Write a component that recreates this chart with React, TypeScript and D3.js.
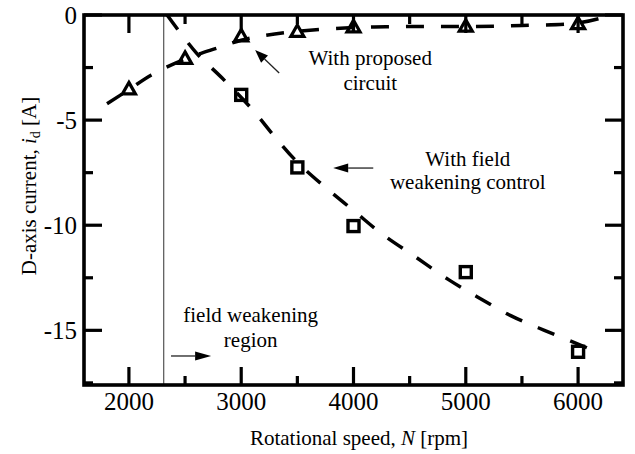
import React from "react";
import * as d3 from "d3";

// ---- data ----
const triN = [2000, 2500, 3000, 3500, 4000, 5000, 6000];
const triI = [-3.5, -2.05, -0.98, -0.77, -0.55, -0.52, -0.4];

const sqN = [3000, 3500, 4000, 5000, 6000];
const sqI = [-3.8, -7.25, -10.04, -12.23, -16.02];

// fitted (dashed) curves
const triFitN = [1805, 2000, 2200, 2500, 2800, 3000, 3200, 3500, 4000, 4500, 5000, 5500, 6000, 6200];
const triFitI = [-4.22, -3.55, -2.85, -2.1, -1.55, -1.2, -0.98, -0.78, -0.6, -0.55, -0.55, -0.5, -0.38, -0.15];

const sqFitN = [2340, 2600, 2830, 3100, 3300, 3500, 3750, 4000, 4250, 4550, 4850, 5100, 5400, 5700, 6000, 6130];
const sqFitI = [0, -1.8, -3.0, -4.5, -5.8, -7.0, -8.2, -9.3, -10.4, -11.5, -12.6, -13.4, -14.3, -15.0, -15.65, -15.95];

const xMajor = [2000, 3000, 4000, 5000, 6000];
const xMinor = [2500, 3500, 4500, 5500];
const yMajor = [0, -5, -10, -15];
const yMinor = [-2.5, -7.5, -12.5, -17.5];
const xTickLabels = ["2000", "3000", "4000", "5000", "6000"];
const yTickLabels = ["0", "-5", "-10", "-15"];

const fwBoundary = 2310;

const W = 635, H = 454;
const L = 84, R = 623, T = 15, B = 385;
const FONT = "'Liberation Serif', 'Times New Roman', serif";

function Arrow({ x1, y1, x2, y2, len = 15, half = 4.5 }: any) {
  const a = Math.atan2(y2 - y1, x2 - x1);
  const bx = x2 - len * Math.cos(a), by = y2 - len * Math.sin(a);
  const px = -Math.sin(a) * half, py = Math.cos(a) * half;
  return (
    <g>
      <line x1={x1} y1={y1} x2={bx} y2={by} stroke="#222" strokeWidth={1.3} />
      <polygon points={`${x2},${y2} ${bx + px},${by + py} ${bx - px},${by - py}`} fill="#000" />
    </g>
  );
}

export default function App() {
  const x = d3.scaleLinear().domain([1600, 6400]).range([L, R]);
  const y = d3.scaleLinear().domain([-17.6, 0]).range([B, T]);

  const line = d3.line<[number, number]>().x(d => x(d[0])).y(d => y(d[1])).curve(d3.curveCatmullRom.alpha(0.5));
  const triFit = line(triFitN.map((n, i) => [n, triFitI[i]]))!;
  const sqFit = line(sqFitN.map((n, i) => [n, sqFitI[i]]))!;

  const tri = (cx: number, cy: number) => {
    const s = 6.2;
    return `${cx},${cy - s} ${cx + s * 1.05},${cy + s * 0.85} ${cx - s * 1.05},${cy + s * 0.85}`;
  };

  return (
    <svg width={W} height={H} style={{ position: "absolute", left: 0, top: 0, background: "#fff" }} fontFamily={FONT}>
      <defs>
        <clipPath id="plot">
          <rect x={L} y={T} width={R - L} height={B - T} />
        </clipPath>
      </defs>
      <rect x={0} y={0} width={W} height={H} fill="#fff" />

      {/* boundary line */}
      <line x1={x(fwBoundary)} x2={x(fwBoundary)} y1={T} y2={B} stroke="#444" strokeWidth={1.1} />

      {/* ticks */}
      {xMajor.map(v => (
        <g key={"xM" + v}>
          <line x1={x(v)} x2={x(v)} y1={B} y2={B - 18} stroke="#000" strokeWidth={3.2} />
          <line x1={x(v)} x2={x(v)} y1={T} y2={T + 18} stroke="#000" strokeWidth={3.2} />
        </g>
      ))}
      {xMinor.map(v => (
        <g key={"xm" + v}>
          <line x1={x(v)} x2={x(v)} y1={B} y2={B - 9} stroke="#000" strokeWidth={3.2} />
          <line x1={x(v)} x2={x(v)} y1={T} y2={T + 9} stroke="#000" strokeWidth={3.2} />
        </g>
      ))}
      {yMajor.map(v => (
        <g key={"yM" + v}>
          <line x1={L} x2={L + 18} y1={y(v)} y2={y(v)} stroke="#000" strokeWidth={3.2} />
          <line x1={R} x2={R - 18} y1={y(v)} y2={y(v)} stroke="#000" strokeWidth={3.2} />
        </g>
      ))}
      {yMinor.map(v => (
        <g key={"ym" + v}>
          <line x1={L} x2={L + 9} y1={y(v)} y2={y(v)} stroke="#000" strokeWidth={3.2} />
          <line x1={R} x2={R - 9} y1={y(v)} y2={y(v)} stroke="#000" strokeWidth={3.2} />
        </g>
      ))}

      {/* curves */}
      <g clipPath="url(#plot)">
        <path d={triFit} fill="none" stroke="#000" strokeWidth={3.5} strokeDasharray="18,17" />
        <path d={sqFit} fill="none" stroke="#000" strokeWidth={3.5} strokeDasharray="18,17" />
      </g>

      {/* markers */}
      {triN.map((n, i) => (
        <polygon key={"t" + n} points={tri(x(n), y(triI[i]))} fill="none" stroke="#000" strokeWidth={3.2} strokeLinejoin="miter" />
      ))}
      {sqN.map((n, i) => (
        <rect key={"s" + n} x={x(n) - 5.5} y={y(sqI[i]) - 5.5} width={11} height={11} fill="none" stroke="#000" strokeWidth={3.4} />
      ))}

      {/* frame */}
      <rect x={L} y={T} width={R - L} height={B - T} fill="none" stroke="#000" strokeWidth={3.6} />

      {/* tick labels */}
      {xMajor.map((v, i) => (
        <text key={"xl" + v} x={x(v)} y={B + 25} textAnchor="middle" fontSize={25}>{xTickLabels[i]}</text>
      ))}
      {yMajor.map((v, i) => (
        <text key={"yl" + v} x={L - 7} y={y(v) + 8.5} textAnchor="end" fontSize={25}>{yTickLabels[i]}</text>
      ))}

      {/* axis titles */}
      <text x={359} y={445} textAnchor="middle" fontSize={21}>
        Rotational speed, <tspan fontStyle="italic">N</tspan> [rpm]
      </text>
      <text transform="translate(36,186) rotate(-90)" textAnchor="middle" fontSize={21}>
        D-axis current, <tspan fontStyle="italic">i</tspan><tspan fontSize={14} dy={4}>d</tspan><tspan dy={-4}> [A]</tspan>
      </text>

      {/* annotations */}
      <text x={x(4149)} y={y(-2.38)} textAnchor="middle" fontSize={21}>With proposed</text>
      <text x={x(4149)} y={y(-3.55)} textAnchor="middle" fontSize={21}>circuit</text>
      <Arrow x1={x(3338)} y1={y(-2.76)} x2={x(3124)} y2={y(-1.67)} len={13} half={5} />

      <text x={x(5018)} y={y(-7.17)} textAnchor="middle" fontSize={21}>With field</text>
      <text x={x(5018)} y={y(-8.3)} textAnchor="middle" fontSize={21}>weakening control</text>
      <Arrow x1={x(4176)} y1={y(-7.28)} x2={x(3819)} y2={y(-7.28)} len={15} half={4.5} />

      <text x={x(3084)} y={y(-14.58)} textAnchor="middle" fontSize={21}>field weakening</text>
      <text x={x(3084)} y={y(-15.8)} textAnchor="middle" fontSize={21}>region</text>
      <Arrow x1={x(2375)} y1={y(-16.22)} x2={x(2732)} y2={y(-16.22)} len={16} half={4.5} />
    </svg>
  );
}
